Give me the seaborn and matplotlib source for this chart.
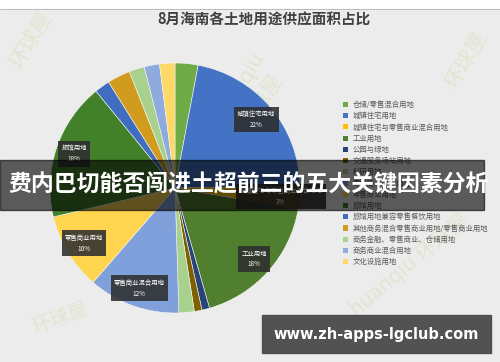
import matplotlib
matplotlib.use("Agg")
import matplotlib.pyplot as plt
from matplotlib.patches import Rectangle, Patch
import seaborn as sns
import numpy as np

# ---- data ----
categories = ["仓储/零售混合用地", "城镇住宅用地", "城镇住宅与零售商业混合用地", "工业用地",
              "公园与绿地", "交通服务场站用地", "科研用地", "零售商业混合用地", "零售商业用地",
              "旅馆用地", "旅馆用地兼容零售餐饮用地", "其他商务混合零售商业用地/零售商业用地",
              "商务金融、零售商业、仓储用地", "商务商业混合用地", "文化设施用地"]
shares = [3, 22, 3, 18, 1, 1, 2, 12, 10, 18, 2, 3, 2, 2, 2]
labeled = ["城镇住宅用地", "城镇住宅与零售商业混合用地", "工业用地", "零售商业混合用地",
           "零售商业用地", "旅馆用地"]
colors = ["#6FAB46", "#4472C4", "#FFC000", "#4F7F2F", "#264478", "#7F6000", "#A9D18E",
          "#7FA0DA", "#FFD54F", "#43802A", "#3F6EC0", "#D19C1D", "#A9D18E", "#8FAADC", "#FFD966"]
title = "8月海南各土地用途供应面积占比"
banner = "费内巴切能否闯进土超前三的五大关键因素分析"
url = "www.zh-apps-lgclub.com"

sns.set_theme(style="white")
plt.rcParams['font.family'] = ['Noto Sans CJK SC', 'DejaVu Sans']

W, H = 500, 362
fig = plt.figure(figsize=(5, 3.62), dpi=100)
fig.patch.set_facecolor("#ebebeb")
ax = fig.add_axes([0, 0, 1, 1])
ax.set_xlim(0, W)
ax.set_ylim(0, H)
ax.set_aspect("equal")
ax.axis("off")

def Y(y):
    return H - y

# background
ax.add_patch(Rectangle((0, 0), W, H, color="#ececec", zorder=0))
ax.add_patch(Rectangle((0, Y(9)), W, 9, color="#ffffff", zorder=0))
ax.plot([0, W], [Y(9), Y(9)], color="#bdbdbd", lw=0.8, zorder=0)

# watermarks
wm = dict(color="#b9cf6a", alpha=0.22, zorder=1, ha="center", va="center")
ax.text(30, Y(40), "环球屋", fontsize=15, rotation=60, **wm)
ax.text(250, Y(95), "huanqiu\n环球屋", fontsize=15, rotation=60, **wm)
ax.text(465, Y(60), "环球屋", fontsize=15, rotation=60, **wm)
ax.text(60, Y(318), "环球屋", fontsize=14, rotation=20, **wm)
ax.text(410, Y(265), "huanqiu 环球屋", fontsize=15, rotation=40, **wm)

# title
ax.text(264, Y(19), title, fontsize=10.5, fontweight="bold", color="#404040",
        ha="center", va="center", zorder=3)

# pie
cx, cy, R = 175, Y(188), 125
wedges, _ = ax.pie(shares, colors=colors, startangle=90, counterclock=False,
                   center=(cx, cy), radius=R, frame=True,
                   wedgeprops=dict(linewidth=0.4, edgecolor="#f5f5f5"))
ax.set_xlim(0, W)
ax.set_ylim(0, H)
ax.axis("off")
for w in wedges:
    w.set_zorder(2)

total = float(sum(shares))
cum = 0.0
for name, v in zip(categories, shares):
    mid = (cum + v / 2) / total * 360.0
    cum += v
    if name in labeled:
        r = 0.85 * R
        th = np.deg2rad(mid)
        lx = cx + r * np.sin(th)
        ly = cy + r * np.cos(th)
        pct = f"{round(v / total * 100):.0f}%"
        ax.text(lx, ly, f"{name}\n{pct}", fontsize=4.6, color="white", ha="center",
                va="center", linespacing=1.5, zorder=4,
                bbox=dict(boxstyle="square,pad=0.5", fc="#2e2e2e", ec="none", alpha=0.88))

# legend
handles = [Patch(facecolor=c, edgecolor="none") for c in colors]
leg = ax.legend(handles, categories, loc="upper left",
                bbox_to_anchor=(340 / W, 1 - 98 / H), frameon=False, fontsize=5.3,
                handlelength=0.7, handleheight=0.7, handletextpad=0.6, labelspacing=0.44,
                borderaxespad=0)
for t in leg.get_texts():
    t.set_color("#5a5a5a")
leg.set_zorder(3)

# dark banner
ax.add_patch(Rectangle((0, Y(210)), 484, 50, color="#000000", alpha=0.62, zorder=5))
ax.text(249, Y(185), banner, fontsize=16.5, fontweight="bold", color="white",
        ha="center", va="center", zorder=6)

# url box
ax.add_patch(Rectangle((262, Y(353)), 229, 38, color="#4a4a4a", alpha=0.95, zorder=5))
ax.text(376, Y(335), url, fontsize=10.5, fontweight="bold", color="white",
        family="DejaVu Sans", ha="center", va="center", zorder=6)

fig.savefig("out.png", dpi=100, facecolor=fig.get_facecolor())
